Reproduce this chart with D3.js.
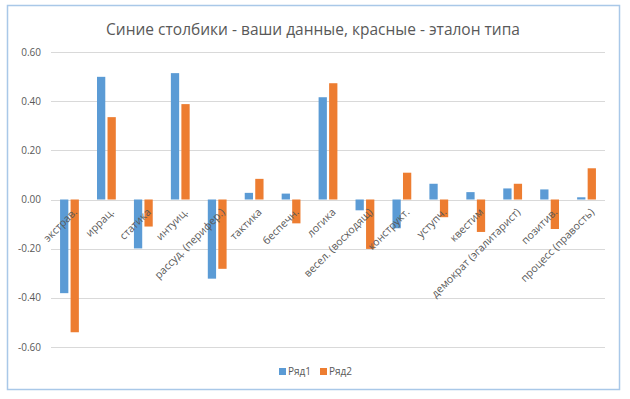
<!DOCTYPE html>
<html><head><meta charset="utf-8">
<script src="https://cdn.jsdelivr.net/npm/d3@7"></script>
<style>body{margin:0;background:#fff}</style>
</head><body>
<svg id="c" width="630" height="399"></svg>
<script>
const categories = ["экстрав.","иррац.","статика","интуиц.","рассуд. (перифер.)","тактика","беспечн.","логика","весел. (восходящ)","конструкт.","уступч.","квестим","демократ (эгалитарист)","позитив.","процесс (правость)"];
const series1 = [-0.381,0.499,-0.199,0.514,-0.322,0.027,0.024,0.416,-0.044,-0.117,0.064,0.030,0.045,0.041,0.009];
const series2 = [-0.540,0.335,-0.110,0.388,-0.282,0.084,-0.097,0.473,-0.201,0.109,-0.072,-0.132,0.064,-0.120,0.127];
const seriesNames = ["Ряд1","Ряд2"];
const colors = ["#5b9bd5","#ed7d31"];
const yTicks = [-0.6,-0.4,-0.2,0,0.2,0.4,0.6];
const title = "Синие столбики - ваши данные, красные - эталон типа";

const svg = d3.select("#c");
const font = "'Open Sans', 'Noto Sans', sans-serif";
svg.append("rect").attr("x",7.5).attr("y",5.5).attr("width",612).attr("height",384)
  .attr("fill","#fff").attr("stroke","#a9c8e8").attr("stroke-width",1.5);

const x = d3.scaleBand().domain(categories).range([51,605]);
const y = d3.scaleLinear().domain([-0.6,0.6]).range([347,52]);

svg.append("text").attr("x",313).attr("y",35).attr("text-anchor","middle")
  .attr("font-family",font).attr("font-size",15.5).attr("fill","#595959").text(title);

const grid = svg.append("g");
yTicks.forEach(t=>{
  grid.append("line").attr("x1",51).attr("x2",605).attr("y1",Math.round(y(t))+0.5).attr("y2",Math.round(y(t))+0.5)
    .attr("stroke","#d9d9d9").attr("stroke-width",1);
  grid.append("text").attr("x",41).attr("y",y(t)).attr("dy","0.35em").attr("text-anchor","end")
    .attr("font-family",font).attr("font-size",10).attr("fill","#595959").text(t.toFixed(2));
});

const bw = x.bandwidth()/4.46;
const gapIn = bw*0.27;
const data = [series1, series2];
data.forEach((s,si)=>{
  svg.append("g").selectAll("rect").data(s).join("rect")
    .attr("x",(d,i)=> x(categories[i]) + x.bandwidth()/2 - bw - gapIn/2 + si*(bw+gapIn))
    .attr("width",bw)
    .attr("y",d=> d>=0 ? y(d) : y(0))
    .attr("height",d=> Math.abs(y(d)-y(0)))
    .attr("fill",colors[si]);
});

svg.append("g").selectAll("text").data(categories).join("text")
  .attr("transform",d=>`translate(${x(d)+x.bandwidth()/2+3},${y(0)+8}) rotate(-45)`)
  .attr("text-anchor","end").attr("dy","0.71em")
  .attr("font-family",font).attr("font-size",10.6).attr("fill","#595959").text(d=>d);

const lg = svg.append("g");
const lx = [279,320];
seriesNames.forEach((n,i)=>{
  lg.append("rect").attr("x",lx[i]).attr("y",368).attr("width",7).attr("height",7).attr("fill",colors[i]);
  lg.append("text").attr("x",lx[i]+9).attr("y",371.5).attr("dy","0.35em")
    .attr("font-family",font).attr("font-size",10).attr("fill","#595959").text(n);
});
</script>
</body></html>
